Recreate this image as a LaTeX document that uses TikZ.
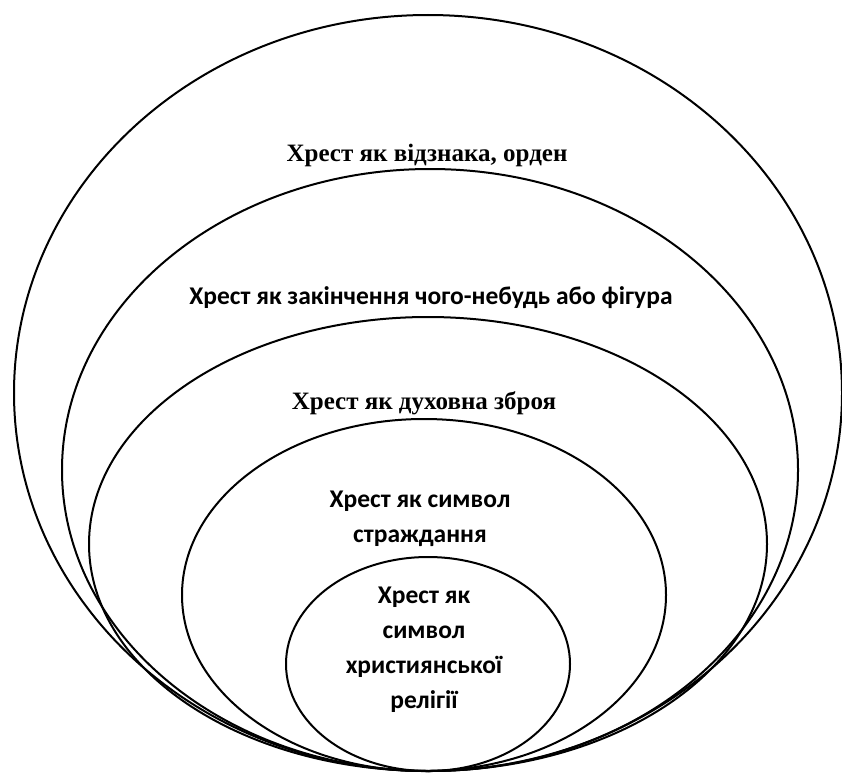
\documentclass[tikz,border=0pt]{standalone}
\usepackage{fontspec}
\setmainfont{Liberation Serif}
\newfontfamily\sansf{Carlito}
\begin{document}
\begin{tikzpicture}[x=1pt,y=-1pt,
  ring/.style={draw=black,line width=2pt},
  serlabel/.style={font=\fontsize{25}{30}\selectfont\bfseries,inner sep=0pt,anchor=center},
  sanlabel/.style={font=\sansf\fontsize{25.5}{35}\selectfont\bfseries,inner sep=0pt,anchor=center,align=center}]
\useasboundingbox (0,0) rectangle (842,776);
\draw[ring] (428,393) ellipse [x radius=414, y radius=378];
\draw[ring] (430,470) ellipse [x radius=368, y radius=301];
\draw[ring] (428,544) ellipse [x radius=339, y radius=227];
\draw[ring] (424,595) ellipse [x radius=242, y radius=176];
\draw[ring] (428,664) ellipse [x radius=142, y radius=107];
\node[serlabel] (t1) at (427,155) {Хрест як відзнака, орден};
\node[sanlabel] (t2) at (431,298) {Хрест як закінчення чого-небудь або фігура};
\node[serlabel] (t3) at (424,403) {Хрест як духовна зброя};
\node[sanlabel] (t4) at (420,519) {Хрест як символ\\страждання};
\node[sanlabel] (t5) at (424,650) {Хрест як\\символ\\християнської\\релігії};
\end{tikzpicture}
\end{document}
